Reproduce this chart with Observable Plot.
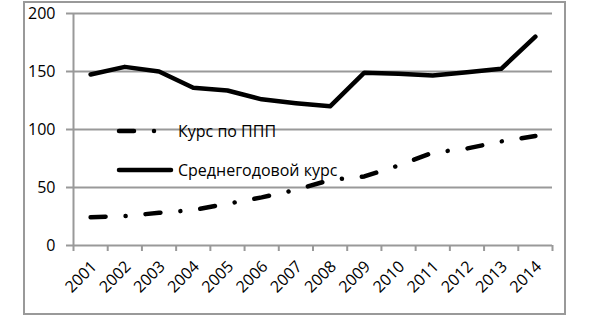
<!DOCTYPE html>
<html><head><meta charset="utf-8">
<script src="https://cdn.jsdelivr.net/npm/d3@7"></script>
<script src="https://cdn.jsdelivr.net/npm/@observablehq/plot@0.6"></script>
<style>
body{margin:0;background:#fff;}
#wrap{position:relative;width:591px;height:316px;font-family:"Open Sans",sans-serif;}
#wrap svg{position:absolute;left:0;top:0;}
#border{position:absolute;left:23px;top:1px;width:543px;height:314px;border:2px solid #999;box-sizing:border-box;}
</style></head><body>
<div id="wrap"><div id="border"></div></div>
<script>
const years = [2001,2002,2003,2004,2005,2006,2007,2008,2009,2010,2011,2012,2013,2014];
const seriesNames = ["Курс по ППП", "Среднегодовой курс"];
const pppRate = [24.4,25.3,28.2,30.5,36,41.5,48,56.5,59.5,69,80,83.6,89.7,94.4];
const avgRate = [147.4,154,150,136,133.6,126,122.7,120,149,148,146.6,149.4,152.3,180];
const yTicks = [0,50,100,150,200];

const FONT = "'Open Sans', sans-serif";
const FS = 16;
const GRAY = "#999";
const DASHDOT = "15,20,0.01,20";

const x0 = years[0] - 0.5, x1 = years[years.length - 1] + 0.5;
const bounds = d3.range(x0, x1 + 0.001, 1);
const data = years.map((y, i) => ({year: y, ppp: pppRate[i], avg: avgRate[i]}));

const chart = Plot.plot({
  width: 591, height: 316,
  marginLeft: 73, marginRight: 39, marginTop: 13, marginBottom: 71,
  x: {type: "linear", domain: [x0, x1]},
  y: {domain: [0, 200]},
  style: {fontFamily: FONT, fontSize: FS + "px", color: "#000", background: "transparent"},
  marks: [
    Plot.ruleY(yTicks.filter(v => v > 0), {stroke: GRAY, strokeWidth: 2}),
    Plot.ruleX([x0], {stroke: GRAY, strokeWidth: 2}),
    Plot.ruleY([0], {stroke: GRAY, strokeWidth: 2}),
    Plot.axisY({ticks: yTicks, tickSize: 7, tickPadding: 11, stroke: GRAY, strokeWidth: 2, fill: "#000", fontSize: FS, label: null, tickFormat: d => String(d)}),
    Plot.axisX({ticks: bounds, tickSize: 6, tickFormat: () => "", stroke: GRAY, strokeWidth: 2, label: null}),
    Plot.text(years, {x: d => d, frameAnchor: "bottom", dx: 7, dy: 22, rotate: -45, textAnchor: "end", fontSize: FS, fill: "#000", text: d => String(d)}),
    Plot.line(data, {x: "year", y: "ppp", stroke: "#000", strokeWidth: 4.5, strokeDasharray: DASHDOT, strokeLinecap: "round", strokeLinejoin: "round"}),
    Plot.line(data, {x: "year", y: "avg", stroke: "#000", strokeWidth: 4.5, strokeLinecap: "round", strokeLinejoin: "round"})
  ]
});
document.getElementById("wrap").appendChild(chart);

// legend overlay
const leg = d3.select("#wrap").append("svg").attr("width", 591).attr("height", 316)
  .style("pointer-events", "none");
const items = [
  {name: seriesNames[0], dash: DASHDOT, x2: 157, y: 131},
  {name: seriesNames[1], dash: null, x2: 171, y: 170}
];
items.forEach(it => {
  const l = leg.append("line").attr("x1", 119).attr("x2", it.x2).attr("y1", it.y).attr("y2", it.y)
    .attr("stroke", "#000").attr("stroke-width", 4.5).attr("stroke-linecap", "round");
  if (it.dash) l.attr("stroke-dasharray", it.dash);
  leg.append("text").attr("x", 178).attr("y", it.y).attr("dy", "0.35em")
    .attr("font-family", FONT).attr("font-size", FS).attr("fill", "#000").text(it.name);
});
</script>
</body></html>
